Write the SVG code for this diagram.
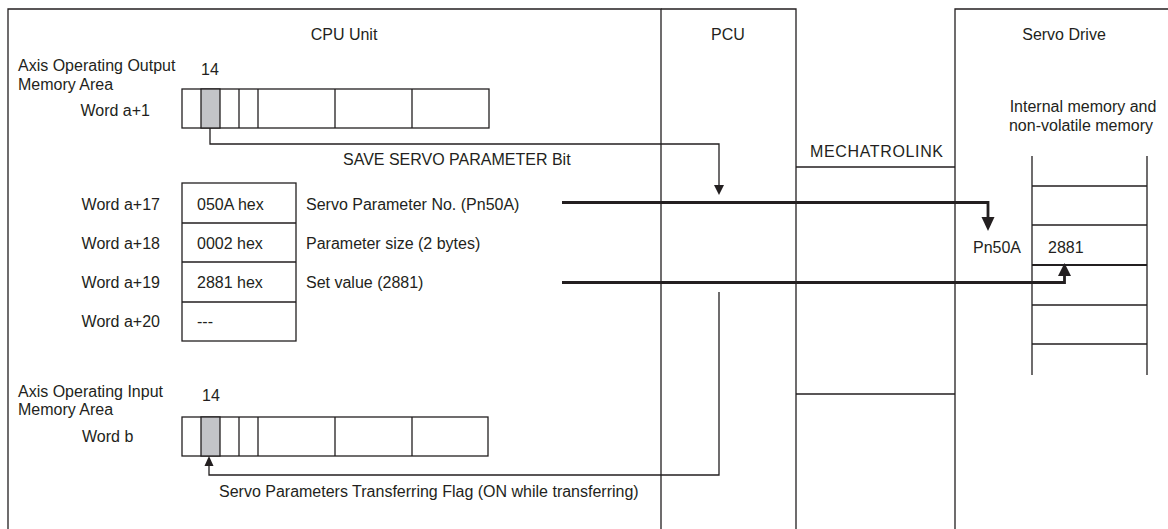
<svg xmlns="http://www.w3.org/2000/svg" width="1168" height="529" viewBox="0 0 1168 529">
<style>
text{font-family:"Liberation Sans",Arial,sans-serif;font-size:16px;fill:#231f20}
.ln{fill:none;stroke:#231f20;stroke-width:1.3}
.bx{fill:#fff;stroke:#231f20;stroke-width:1.3}
.gr{fill:#c3c4c8;stroke:#231f20;stroke-width:1.3}
.thk{fill:none;stroke:#231f20;stroke-width:2.8}
.mid{text-anchor:middle}
.end{text-anchor:end}
.ah{fill:#231f20}
</style>
<rect width="1168" height="529" fill="#fff"/>
<g id="cpu-unit">
<path class="ln" d="M8,535 V9 H661 V535"/>
<text class="mid" x="344" y="40">CPU Unit</text>
</g>
<g id="pcu">
<path class="ln" d="M661,9 H796 V535"/>
<text class="mid" x="728" y="40">PCU</text>
</g>
<g id="mechatrolink">
<path class="ln" d="M796,167 H955 M796,394 H955"/>
<text x="810" y="157" textLength="133">MECHATROLINK</text>
</g>
<g id="servo-drive">
<path class="ln" d="M955,535 V9 H1170"/>
<text class="mid" x="1064" y="40">Servo Drive</text>
</g>
<g id="output-area">
<text x="18" y="71">Axis Operating Output</text>
<text x="18" y="90">Memory Area</text>
<text x="201" y="75">14</text>
<text class="end" x="150" y="116">Word a+1</text>
<rect class="bx" x="182" y="89" width="307" height="39"/>
<rect class="gr" x="201" y="89" width="19" height="39"/>
<path class="ln" d="M239,89 V128 M258,89 V128 M335,89 V128 M412,89 V128"/>
</g>
<g id="param-words">
<text class="end" x="160" y="210">Word a+17</text>
<text class="end" x="160" y="249">Word a+18</text>
<text class="end" x="160" y="288">Word a+19</text>
<text class="end" x="160" y="327">Word a+20</text>
<rect class="bx" x="182" y="183" width="114" height="158"/>
<path class="ln" d="M182,223 H296 M182,262 H296 M182,302 H296"/>
<text x="197" y="210">050A hex</text>
<text x="197" y="249">0002 hex</text>
<text x="197" y="288">2881 hex</text>
<text x="197" y="327">---</text>
<text x="306" y="210">Servo Parameter No. (Pn50A)</text>
<text x="306" y="249">Parameter size (2 bytes)</text>
<text x="306" y="288">Set value (2881)</text>
</g>
<g id="input-area">
<text x="18" y="397">Axis Operating Input</text>
<text x="18" y="415">Memory Area</text>
<text x="202" y="401">14</text>
<text x="82" y="442">Word b</text>
<rect class="bx" x="182" y="417" width="306" height="39"/>
<rect class="gr" x="201" y="417" width="19" height="39"/>
<path class="ln" d="M239,417 V456 M258,417 V456 M335,417 V456 M412,417 V456"/>
</g>
<g id="servo-memory">
<text class="mid" x="1083" y="112">Internal memory and</text>
<text class="mid" x="1081" y="131">non-volatile memory</text>
<path class="ln" d="M1032,156 V375 M1147,156 V375 M1032,186 H1147 M1032,225 H1147 M1032,305 H1147 M1032,344 H1147"/>
<path d="M1032,265 H1147" fill="none" stroke="#231f20" stroke-width="2"/>
<text x="973" y="253">Pn50A</text>
<text x="1048" y="253">2881</text>
</g>
<g id="connectors">
<path class="ln" d="M210,128 V144 H719 V186"/>
<polygon class="ah" points="714,185 724,185 719,195"/>
<text x="343" y="165">SAVE SERVO PARAMETER Bit</text>
<path class="thk" d="M562,202.5 H988 V218"/>
<polygon class="ah" points="981.5,217 994.5,217 988,231"/>
<path class="thk" d="M562,282.5 H1064.5 V274"/>
<polygon class="ah" points="1058,276 1071,276 1064.5,263"/>
<path class="ln" d="M719,292 V475 H209 V465"/>
<polygon class="ah" points="204.5,466 213.5,466 209,456"/>
<text x="219" y="497">Servo Parameters Transferring Flag (ON while transferring)</text>
</g>
</svg>
